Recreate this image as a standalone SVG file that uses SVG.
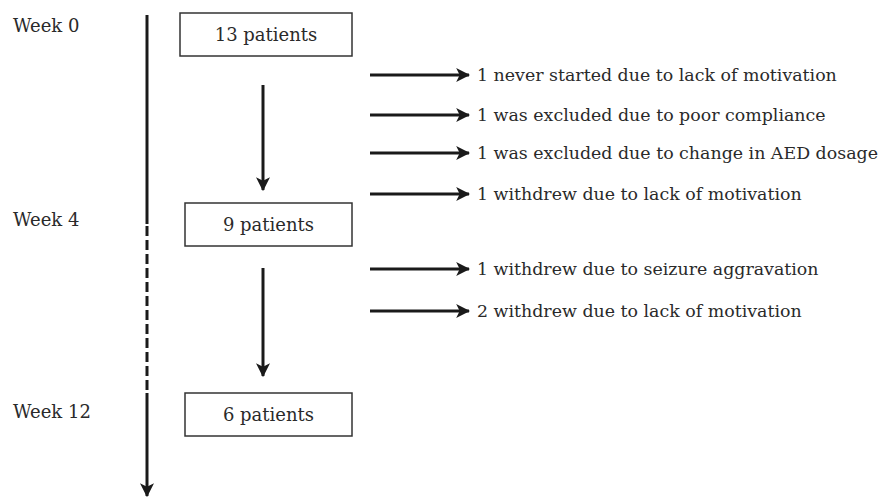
<svg xmlns="http://www.w3.org/2000/svg" width="885" height="500" viewBox="0 0 885 500">
<defs>
<marker id="ah2" viewBox="0 0 12 12" refX="11" refY="6" markerWidth="14" markerHeight="14" markerUnits="userSpaceOnUse" orient="auto">
<path d="M0,0 L12,6 L0,12 L3,6 Z" fill="#1a1a1a"/>
</marker>
<style>
text{font-family:"DejaVu Serif","Liberation Serif",serif;font-size:18px;fill:#2a2a2a}
.out{font-size:17.4px}
.box{fill:#fff;stroke:#333;stroke-width:1.5}
.ln{stroke:#1a1a1a;stroke-width:3;fill:none}
.mid{text-anchor:middle}
</style>
</defs>
<g id="labels">
<text x="13" y="32">Week 0</text>
<text x="13" y="226">Week 4</text>
<text x="13" y="418">Week 12</text>
</g>
<g id="connectors">
<line class="ln" x1="147" y1="15" x2="147" y2="224"/>
<line class="ln" x1="147" y1="226" x2="147" y2="393" stroke-dasharray="10 4"/>
<line class="ln" x1="147" y1="393" x2="147" y2="496" marker-end="url(#ah2)"/>
<line class="ln" x1="263" y1="85" x2="263" y2="190" marker-end="url(#ah2)"/>
<line class="ln" x1="263" y1="268" x2="263" y2="376" marker-end="url(#ah2)"/>
<line class="ln" x1="370" y1="75" x2="469" y2="75" marker-end="url(#ah2)"/>
<line class="ln" x1="370" y1="115" x2="469" y2="115" marker-end="url(#ah2)"/>
<line class="ln" x1="370" y1="153" x2="469" y2="153" marker-end="url(#ah2)"/>
<line class="ln" x1="370" y1="194" x2="469" y2="194" marker-end="url(#ah2)"/>
<line class="ln" x1="370" y1="269" x2="469" y2="269" marker-end="url(#ah2)"/>
<line class="ln" x1="370" y1="311" x2="469" y2="311" marker-end="url(#ah2)"/>
</g>
<g id="n13">
<rect class="box" x="180" y="13" width="172" height="43"/>
<text class="mid" x="266" y="41">13 patients</text>
</g>
<g id="n9">
<rect class="box" x="185" y="203" width="167" height="43"/>
<text class="mid" x="268.5" y="231">9 patients</text>
</g>
<g id="n6">
<rect class="box" x="185" y="393" width="167" height="43"/>
<text class="mid" x="268.5" y="421">6 patients</text>
</g>
<g id="outcomes">
<text class="out" x="477" y="81">1 never started due to lack of motivation</text>
<text class="out" x="477" y="121">1 was excluded due to poor compliance</text>
<text class="out" x="477" y="159">1 was excluded due to change in AED dosage</text>
<text class="out" x="477" y="200">1 withdrew due to lack of motivation</text>
<text class="out" x="477" y="275">1 withdrew due to seizure aggravation</text>
<text class="out" x="477" y="317">2 withdrew due to lack of motivation</text>
</g>
</svg>
